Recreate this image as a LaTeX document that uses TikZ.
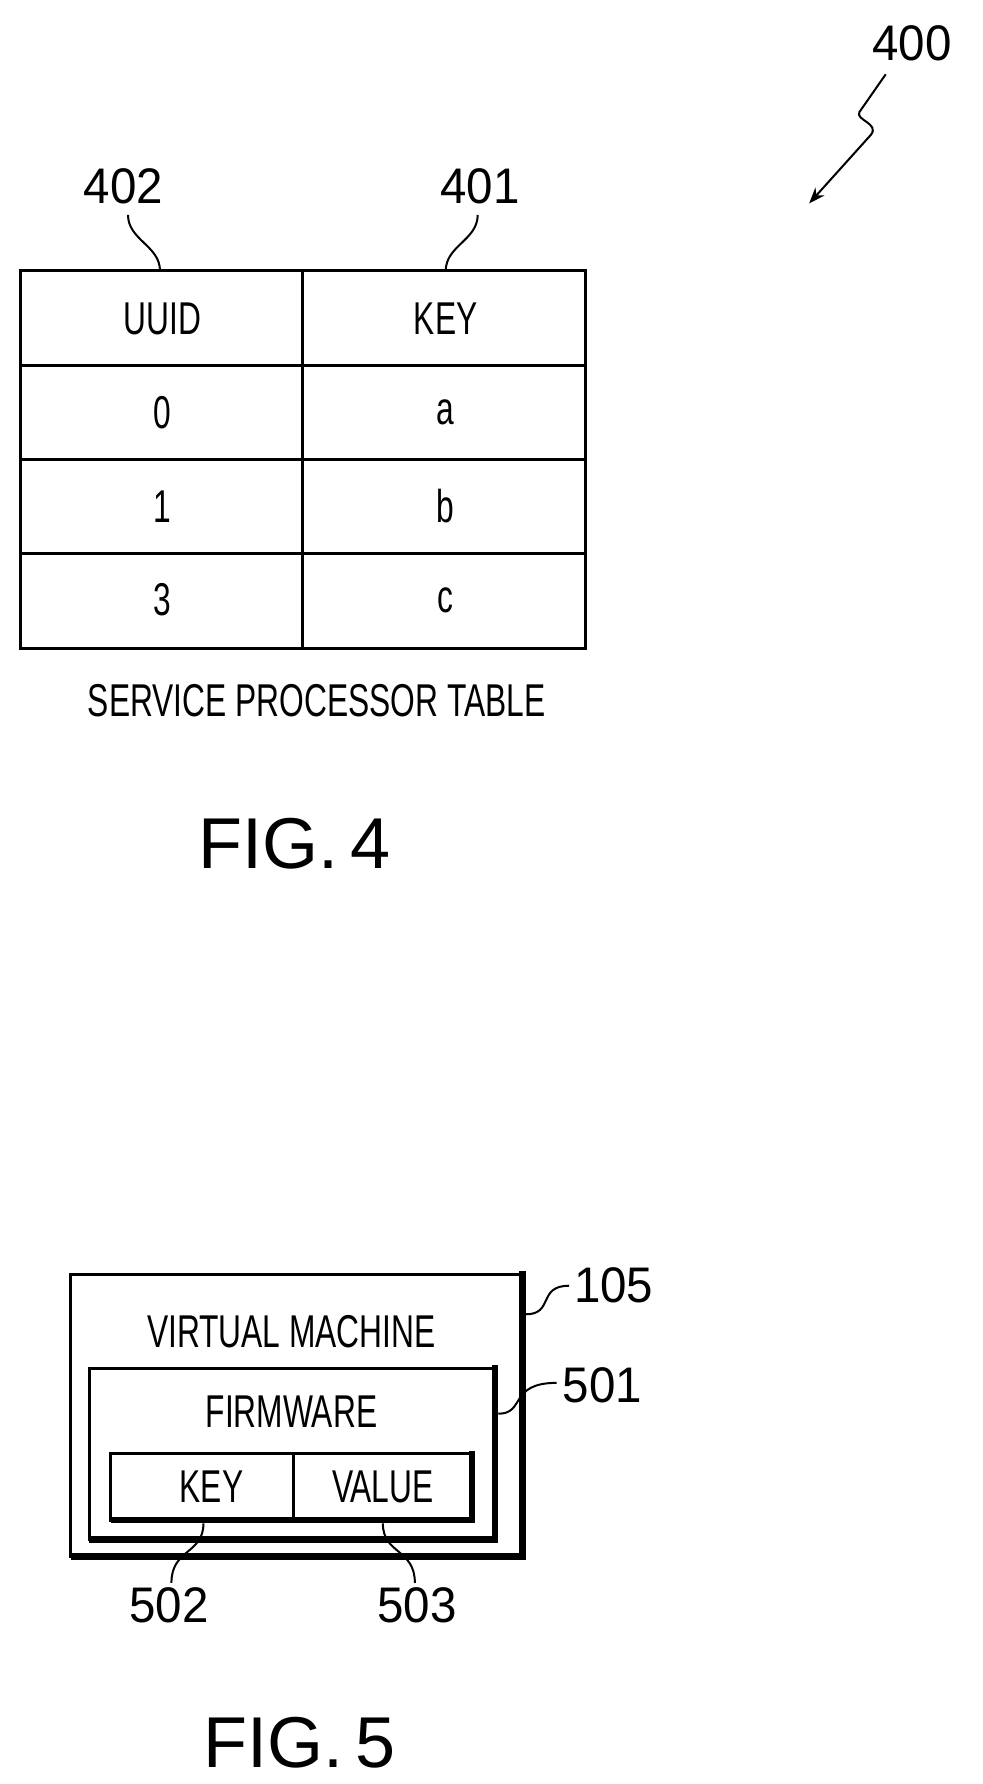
\documentclass[tikz,border=0pt]{standalone}
\usepackage{fontspec}
\setmainfont{Liberation Sans}
\usetikzlibrary{arrows.meta}
\tikzset{
  lbl/.style={font=\fontsize{46}{46}\selectfont, xscale=0.69, inner sep=0pt},
  num/.style={font=\fontsize{50}{50}\selectfont, xscale=0.95, inner sep=0pt},
  fig/.style={font=\fontsize{72}{72}\selectfont, inner sep=0pt},
  leader/.style={line width=2pt},
  frame/.style={line width=3pt},
  shadow/.style={line width=6.5pt}
}
\begin{document}
\begin{tikzpicture}[x=1.143pt,y=-1.143pt]
\useasboundingbox (0,0) rectangle (860,1561);
% FIG. 4 table
\draw[frame] (18,237) rectangle (512,567);
\draw[frame] (265,237) -- (265,567);
\foreach \y in {320,402,484} \draw[frame] (18,\y) -- (512,\y);
\node[lbl] (uuid) at (142,279) {UUID};
\node[lbl] (key) at (390,279) {KEY};
\node[lbl] (u0) at (142,361) {0};
\node[lbl] (k0) at (390,361) {a};
\node[lbl] (u1) at (142,443) {1};
\node[lbl] (k1) at (390,443) {b};
\node[lbl] (u3) at (142,525) {3};
\node[lbl] (k3) at (390,525) {c};
\node[lbl] (sptable) at (277,613) {SERVICE PROCESSOR TABLE};
\node[fig] (fig4) at (258,738) {FIG.\,4};
% reference numerals
\node[num] (n402) at (108,163) {402};
\node[num] (n401) at (420,163) {401};
\node[num] (n400) at (798,38) {400};
\coordinate (t402) at (140,237);
\coordinate (t401) at (390,237);
\draw[leader] (t402) .. controls (140,215) and (112,210) .. (112,188);
\draw[leader] (t401) .. controls (390,215) and (418,210) .. (418,188);
\draw[leader,-{Stealth[length=16pt,width=12pt]}] (775,65) -- (752,98) .. controls (748,105) and (770,108) .. (762,118) -- (708,178);
% FIG. 5
\draw[frame] (62,1115) rectangle (457,1362);
\draw[shadow] (62,1362) -- (457,1362) -- (457,1112);
\draw[frame] (78,1197) rectangle (433,1347);
\draw[shadow] (78,1347) -- (433,1347) -- (433,1194);
\draw[frame] (97,1272) rectangle (413,1330);
\draw[shadow] (97,1330) -- (413,1330) -- (413,1270);
\draw[frame] (257,1272) -- (257,1330);
\node[lbl] (vm) at (255,1165) {VIRTUAL MACHINE};
\node[lbl] (fw) at (255,1235) {FIRMWARE};
\node[lbl] (kk) at (185,1301) {KEY};
\node[lbl] (vv) at (335,1301) {VALUE};
\node[num] (n105) at (537,1125) {105};
\node[num] (n501) at (527,1212) {501};
\node[num] (n502) at (148,1405) {502};
\node[num] (n503) at (365,1405) {503};
\coordinate (t105) at (460,1150);
\coordinate (t501) at (436,1237);
\coordinate (t502) at (178,1333);
\coordinate (t503) at (335,1333);
\draw[leader] (t105) .. controls (485,1150) and (470,1125) .. (498,1125);
\draw[leader] (t501) .. controls (460,1237) and (445,1210) .. (487,1210);
\draw[leader] (t502) .. controls (178,1360) and (150,1355) .. (150,1385);
\draw[leader] (t503) .. controls (335,1360) and (363,1355) .. (363,1385);
\node[fig] (fig5) at (262,1525) {FIG.\,5};
\end{tikzpicture}
\end{document}
